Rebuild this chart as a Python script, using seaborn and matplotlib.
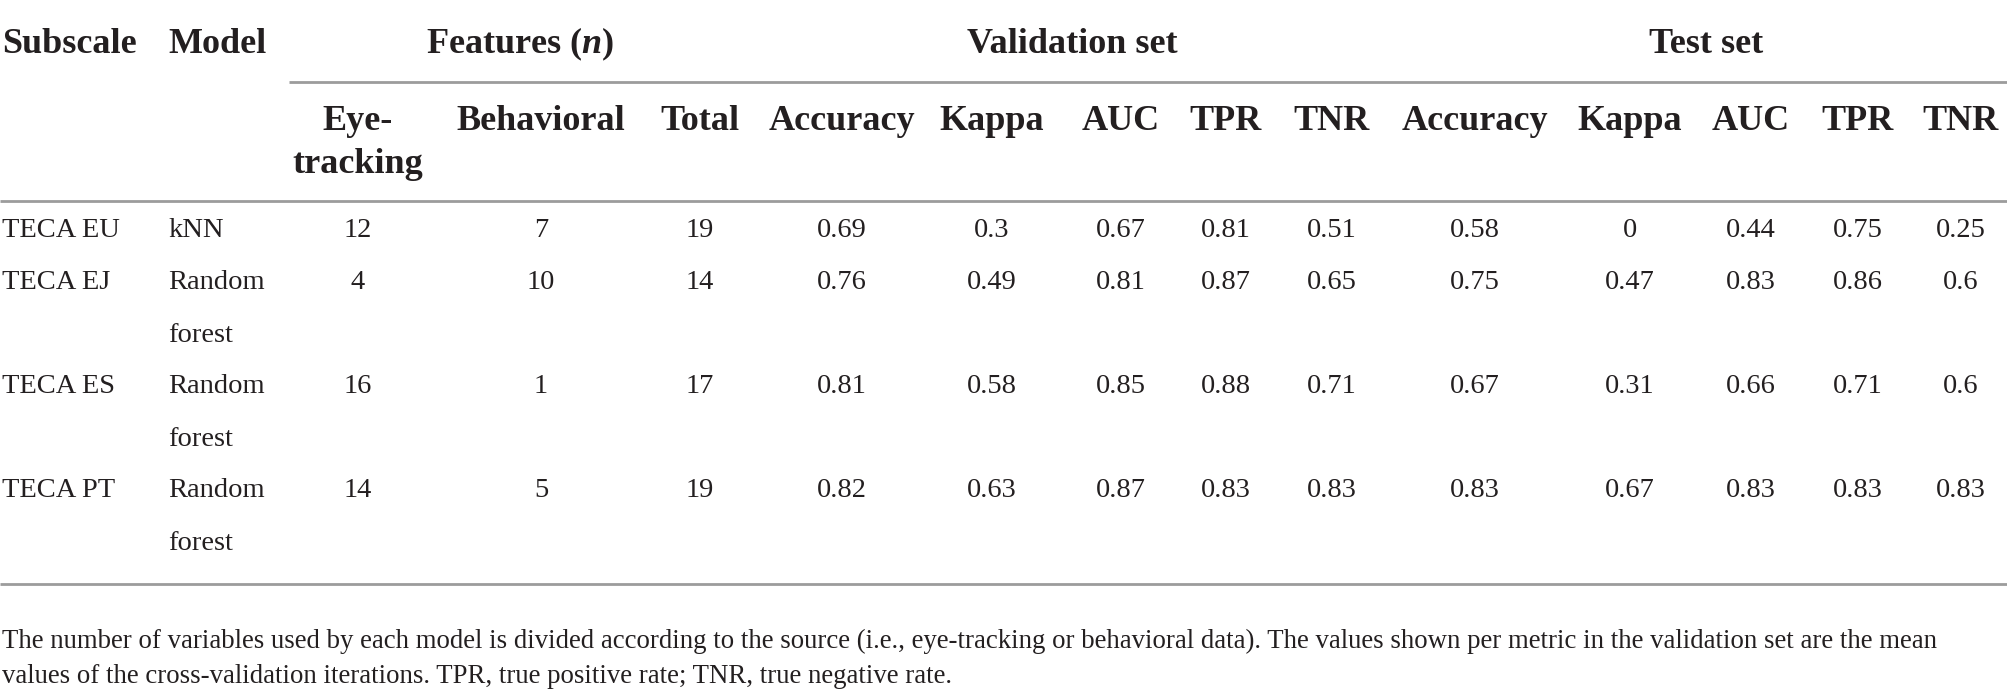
import matplotlib
matplotlib.use('Agg')
import matplotlib.pyplot as plt
import seaborn as sns
import pandas as pd

# dados da tabela
subscales = ['TECA EU', 'TECA EJ', 'TECA ES', 'TECA PT']
models = ['kNN', 'Random\nforest', 'Random\nforest', 'Random\nforest']
eye_tracking = ['12', '4', '16', '14']
behavioral = ['7', '10', '1', '5']
total = ['19', '14', '17', '19']
val_accuracy = ['0.69', '0.76', '0.81', '0.82']
val_kappa = ['0.3', '0.49', '0.58', '0.63']
val_auc = ['0.67', '0.81', '0.85', '0.87']
val_tpr = ['0.81', '0.87', '0.88', '0.83']
val_tnr = ['0.51', '0.65', '0.71', '0.83']
test_accuracy = ['0.58', '0.75', '0.67', '0.83']
test_kappa = ['0', '0.47', '0.31', '0.67']
test_auc = ['0.44', '0.83', '0.66', '0.83']
test_tpr = ['0.75', '0.86', '0.71', '0.83']
test_tnr = ['0.25', '0.6', '0.6', '0.83']

col_headers = ['Eye-\ntracking', 'Behavioral', 'Total',
               'Accuracy', 'Kappa', 'AUC', 'TPR', 'TNR',
               'Accuracy', 'Kappa', 'AUC', 'TPR', 'TNR']
footnote = ('The number of variables used by each model is divided according to the source '
            '(i.e., eye-tracking or behavioral data). The values shown per metric in the validation set are the mean\n'
            'values of the cross-validation iterations. TPR, true positive rate; TNR, true negative rate.')

df = pd.DataFrame({
    'subscale': subscales, 'model': models,
    'eye': eye_tracking, 'beh': behavioral, 'tot': total,
    'v_acc': val_accuracy, 'v_kap': val_kappa, 'v_auc': val_auc, 'v_tpr': val_tpr, 'v_tnr': val_tnr,
    't_acc': test_accuracy, 't_kap': test_kappa, 't_auc': test_auc, 't_tpr': test_tpr, 't_tnr': test_tnr,
})

sns.set_theme(style='white')
plt.rcParams['font.family'] = ['Liberation Serif', 'DejaVu Serif']
plt.rcParams['mathtext.fontset'] = 'custom'
plt.rcParams['mathtext.it'] = 'Liberation Serif:italic:bold'
plt.rcParams['mathtext.rm'] = 'Liberation Serif:bold'

W, H = 2008, 699
fig = plt.figure(figsize=(W / 100, H / 100), dpi=100)
ax = fig.add_axes([0, 0, 1, 1])
ax.set_xlim(0, W)
ax.set_ylim(H, 0)
ax.axis('off')

txt_color = '#231f20'
line_color = '#9c9c9c'
head_fs = 26
body_fs = 20.5
foot_fs = 19.3

# posicoes das colunas (centro)
col_x = [358, 541, 700, 842, 992, 1121, 1226, 1332, 1475, 1630, 1751, 1858, 1961]
x_sub, x_model = 2, 168

# cabecalho nivel 1
head_kw = dict(fontsize=head_fs, fontweight='bold', color=txt_color, va='baseline')
ax.text(x_sub, 53, 'Subscale', ha='left', **head_kw)
ax.text(x_model, 53, 'Model', ha='left', **head_kw)
ax.text(520, 53, 'Features ($n$)', ha='center', **head_kw)
ax.text(1072, 53, 'Validation set', ha='center', **head_kw)
ax.text(1706, 53, 'Test set', ha='center', **head_kw)

# linha sob os grupos
ax.plot([289, W], [82, 82], color=line_color, lw=2, solid_capstyle='butt')

# cabecalho nivel 2
for x, lab in zip(col_x, col_headers):
    for k, p in enumerate(lab.split('\n')):
        ax.text(x, 130 + k * 43, p, ha='center', **head_kw)

ax.plot([0, W], [201, 201], color=line_color, lw=2, solid_capstyle='butt')

# linhas de dados
row_y = [237, 289, 393, 497]
line_gap = 52.5
value_cols = ['eye', 'beh', 'tot', 'v_acc', 'v_kap', 'v_auc', 'v_tpr', 'v_tnr',
              't_acc', 't_kap', 't_auc', 't_tpr', 't_tnr']
body_kw = dict(fontsize=body_fs, color=txt_color, va='baseline')
for i, row in df.iterrows():
    y = row_y[i]
    ax.text(x_sub, y, row['subscale'], ha='left', **body_kw)
    for k, p in enumerate(row['model'].split('\n')):
        ax.text(x_model, y + k * line_gap, p, ha='left', **body_kw)
    for x, c in zip(col_x, value_cols):
        ax.text(x, y, row[c], ha='center', **body_kw)

ax.plot([0, W], [584, 584], color=line_color, lw=2, solid_capstyle='butt')

# nota de rodape
for k, p in enumerate(footnote.split('\n')):
    ax.text(2, 648 + k * 35, p, fontsize=foot_fs, color=txt_color, va='baseline', ha='left')

fig.savefig('out.png', dpi=100)
